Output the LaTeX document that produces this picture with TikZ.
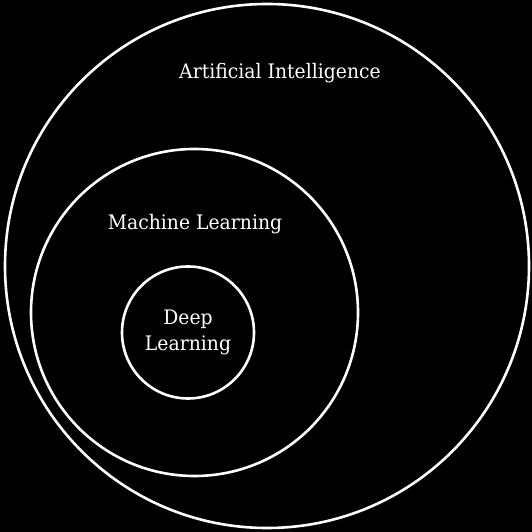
\documentclass[tikz,border=0pt]{standalone}
\usepackage{fontspec}
\setmainfont[FakeStretch=0.94]{DejaVu Serif}
\begin{document}
\begin{tikzpicture}[x=1pt,y=1pt,
  ring/.style={circle, draw=white, line width=2.6pt, inner sep=0pt, outer sep=0pt},
  caption/.style={text=white, font=\fontsize{20}{25.5}\selectfont, inner sep=0pt}]
  % black square background fixes the page size
  \fill[black] (0,0) rectangle (532,532);
  \useasboundingbox (0,0) rectangle (532,532);

  % nested sets
  \node[ring, minimum size=524pt] (ai) at (267,266) {};
  \node[ring, minimum size=327pt] (ml) at (194.5,219.5) {};
  \node[ring, minimum size=132pt, caption, align=center] (dl) at (188,199.5) {Deep\\Learning};

  % set names
  \node[caption, anchor=base] (ailabel) at (280,453) {Artificial Intelligence};
  \node[caption, anchor=base] (mllabel) at (195,302.3) {Machine Learning};
\end{tikzpicture}
\end{document}
